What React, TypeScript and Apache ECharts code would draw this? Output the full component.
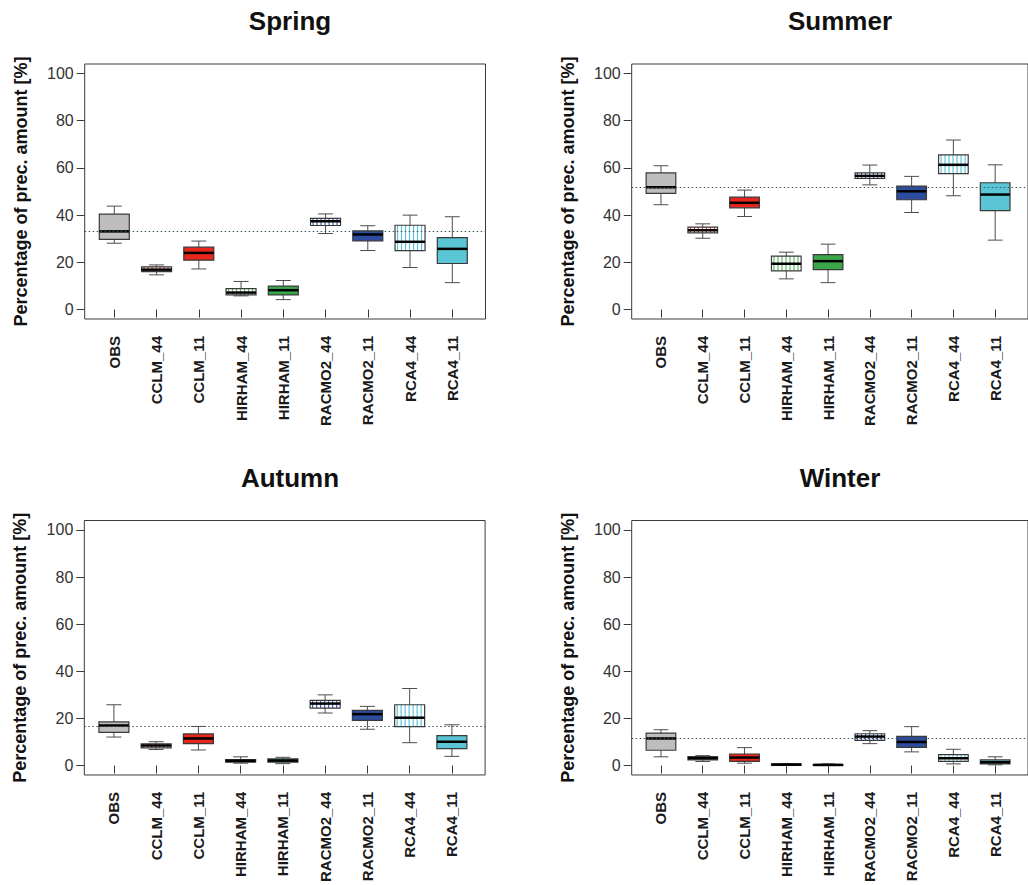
import React, { useEffect, useRef } from "react";
import * as echarts from "echarts";

const MODELS = ["OBS", "CCLM_44", "CCLM_11", "HIRHAM_44", "HIRHAM_11", "RACMO2_44", "RACMO2_11", "RCA4_44", "RCA4_11"];
const FILLS = ["#bebebe", "#e8261d", "#e8261d", "#3aa649", "#3aa649", "#2b4c9f", "#2b4c9f", "#5ac5d5", "#5ac5d5"];
const HATCH_COLORS = ["", "#d8392f", "", "#62b866", "", "#3f5fb0", "", "#62c4dc", ""];
const HATCHED = [false, true, false, true, false, true, false, true, false];
const SEASONS = ["Spring", "Summer", "Autumn", "Winter"];
const Y_TICKS = [0, 20, 40, 60, 80, 100];

// [low whisker, Q1, median, Q3, high whisker]
const spring = [
  [28.1, 29.7, 33.1, 40.4, 43.8],
  [14.7, 16.1, 16.9, 18.1, 18.9],
  [17.2, 20.9, 24.0, 26.4, 29.0],
  [5.8, 6.2, 7.2, 8.9, 11.9],
  [4.2, 6.2, 8.2, 9.9, 12.3],
  [32.2, 35.6, 37.4, 38.6, 40.5],
  [25.0, 29.1, 31.8, 33.3, 35.5],
  [17.8, 25.0, 28.7, 35.7, 40.0],
  [11.4, 19.5, 25.7, 30.5, 39.3],
];
const summer = [
  [44.4, 49.2, 51.8, 57.9, 60.9],
  [30.2, 32.5, 33.6, 34.9, 36.3],
  [39.4, 43.1, 45.2, 47.6, 50.6],
  [13.0, 16.4, 19.4, 22.6, 24.3],
  [11.4, 16.9, 20.5, 23.3, 27.7],
  [52.8, 55.5, 56.6, 57.9, 61.2],
  [41.1, 46.5, 50.1, 52.3, 56.4],
  [48.2, 57.6, 61.3, 65.5, 71.8],
  [29.4, 41.9, 48.7, 53.7, 61.3],
];
const autumn = [
  [12.1, 14.1, 17.0, 18.5, 25.8],
  [6.8, 7.5, 8.5, 9.2, 10.1],
  [6.6, 9.3, 11.5, 13.4, 16.6],
  [1.0, 1.4, 2.0, 2.5, 3.7],
  [0.8, 1.4, 2.1, 2.8, 3.5],
  [22.3, 24.4, 26.3, 27.7, 30.0],
  [15.4, 19.2, 21.8, 23.4, 25.1],
  [9.7, 16.5, 20.3, 25.8, 32.7],
  [3.9, 7.2, 10.1, 12.7, 17.3],
];
const winter = [
  [3.7, 6.5, 11.5, 13.8, 15.2],
  [1.7, 2.4, 3.1, 3.8, 4.2],
  [1.0, 1.8, 3.4, 4.9, 7.6],
  [0.0, 0.1, 0.4, 0.7, 0.8],
  [0.0, 0.0, 0.3, 0.4, 0.7],
  [9.3, 10.7, 12.3, 13.5, 14.8],
  [5.8, 7.7, 10.0, 12.4, 16.5],
  [0.7, 1.8, 3.1, 4.6, 6.9],
  [0.3, 0.7, 1.4, 2.4, 3.7],
];
const SEASON_STATS = [spring, summer, autumn, winter];
// dotted reference line (OBS median)
const REF_LINES = [33.0, 51.8, 16.6, 11.5];

const FONT = "'Liberation Sans', Arial, Helvetica, sans-serif";
const FRAME = "#3a3a3a";

export default function App() {
  const ref = useRef<HTMLDivElement>(null);
  useEffect(() => {
    const chart = echarts.init(ref.current!, null, { renderer: "svg" });

    const panels = [
      { left: 84.7, top: 64, cx: 285, ty: 3 },
      { left: 631.7, top: 64, cx: 835, ty: 3 },
      { left: 84.3, top: 520.5, cx: 285, ty: 460 },
      { left: 631.7, top: 520.5, cx: 835, ty: 460 },
    ];
    const W = 400.8;
    const H = 255;

    const renderBox = (params: any, api: any) => {
      const x = api.value(0);
      const idx = x - 1;
      const lo = api.coord([x, api.value(1)]);
      const q1 = api.coord([x, api.value(2)]);
      const med = api.coord([x, api.value(3)]);
      const q3 = api.coord([x, api.value(4)]);
      const hi = api.coord([x, api.value(5)]);
      const unit = api.size([1, 0])[0];
      const half = unit * 0.355;
      const cap = half / 2;
      const cx = med[0];
      const wStyle = { stroke: "#4d4d4d", lineWidth: 1 };
      const children: any[] = [
        { type: "line", shape: { x1: cx, y1: q3[1], x2: cx, y2: hi[1] }, style: wStyle },
        { type: "line", shape: { x1: cx, y1: q1[1], x2: cx, y2: lo[1] }, style: wStyle },
        { type: "line", shape: { x1: cx - cap, y1: hi[1], x2: cx + cap, y2: hi[1] }, style: wStyle },
        { type: "line", shape: { x1: cx - cap, y1: lo[1], x2: cx + cap, y2: lo[1] }, style: wStyle },
        {
          type: "rect",
          shape: { x: cx - half, y: q3[1], width: 2 * half, height: q1[1] - q3[1] },
          style: { fill: HATCHED[idx] ? "#ffffff" : FILLS[idx], stroke: "none" },
        },
      ];
      if (HATCHED[idx]) {
        for (let hx = cx - half + 2.5; hx < cx + half - 0.5; hx += 4) {
          children.push({
            type: "line",
            shape: { x1: hx, y1: q3[1], x2: hx, y2: q1[1] },
            style: { stroke: HATCH_COLORS[idx], lineWidth: 1.2 },
          });
        }
      }
      children.push({
        type: "rect",
        shape: { x: cx - half, y: q3[1], width: 2 * half, height: q1[1] - q3[1] },
        style: { fill: "none", stroke: "#3a3a3a", lineWidth: 1.2 },
      });
      children.push({
        type: "line",
        shape: { x1: cx - half, y1: med[1], x2: cx + half, y2: med[1] },
        style: { stroke: "#000000", lineWidth: 2.5 },
      });
      return { type: "group", children };
    };

    const option: any = {
      animation: false,
      backgroundColor: "#ffffff",
      title: SEASONS.map((s, i) => ({
        text: s,
        left: panels[i].cx,
        top: panels[i].ty,
        textAlign: "center",
        textStyle: { fontFamily: FONT, fontSize: 26, fontWeight: "bold", color: "#111" },
      })),
      grid: panels.map((p) => ({
        left: p.left,
        top: p.top,
        width: W,
        height: H,
        show: true,
        borderColor: FRAME,
        borderWidth: 1,
        backgroundColor: "transparent",
        containLabel: false,
      })),
      xAxis: panels.map((p, i) => ({
        gridIndex: i,
        type: "value",
        min: 0.2994,
        max: 9.786,
        splitLine: { show: false },
        axisLine: { show: false },
        axisTick: { show: true, length: 8, customValues: MODELS.map((_, k) => k + 1), lineStyle: { color: FRAME } },
        axisLabel: {
          customValues: MODELS.map((_, k) => k + 1),
          formatter: (v: number) => MODELS[Math.round(v) - 1] ?? "",
          rotate: 90,
          margin: 17,
          fontFamily: FONT,
          fontSize: 15,
          fontWeight: "bold",
          color: "#1a1a1a",
        },
      })),
      yAxis: panels.map((p, i) => ({
        gridIndex: i,
        type: "value",
        min: -4,
        max: 104,
        splitLine: { show: false },
        axisLine: { show: false },
        axisTick: { show: true, length: 8, customValues: Y_TICKS, lineStyle: { color: FRAME } },
        axisLabel: { customValues: Y_TICKS, margin: 11, fontFamily: FONT, fontSize: 16, color: "#333" },
        name: "Percentage of prec. amount [%]",
        nameLocation: "middle",
        nameGap: 55,
        nameRotate: 90,
        nameTextStyle: { fontFamily: FONT, fontSize: 18, fontWeight: "bold", color: "#111" },
      })),
      series: SEASON_STATS.flatMap((stats, i) => [
        {
          type: "custom",
          xAxisIndex: i,
          yAxisIndex: i,
          renderItem: renderBox,
          data: stats.map((s, k) => [k + 1, ...s]),
          z: 2,
        },
        {
          type: "line",
          xAxisIndex: i,
          yAxisIndex: i,
          data: [],
          z: 5,
          markLine: {
            silent: true,
            symbol: "none",
            label: { show: false },
            lineStyle: { type: [1.5, 2.5], color: "#35535f", width: 1 },
            data: [{ yAxis: REF_LINES[i] }],
            z: 5,
          },
        },
      ]),
    };
    chart.setOption(option);
    return () => chart.dispose();
  }, []);
  return (
    <div
      ref={ref}
      style={{ position: "absolute", left: 0, top: 0, width: 1028, height: 885, overflow: "hidden" }}
    />
  );
}
